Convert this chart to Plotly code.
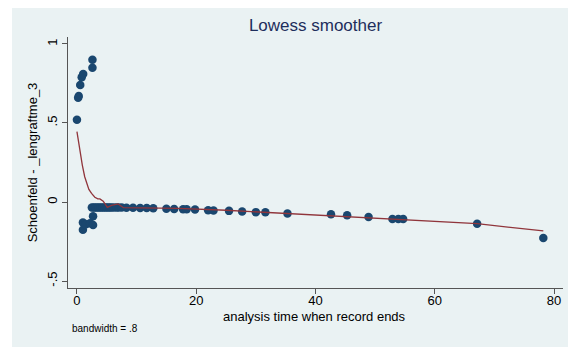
import plotly.graph_objects as go

# Scatter of Schoenfeld residuals (analysis time, residual)
pts_x = [0.0, 0.3, 0.2, 0.55, 0.8, 1.05, 2.6, 2.6,
         1.0, 1.0, 1.5, 2.2, 2.7, 2.7,
         2.5, 2.8, 3.1, 3.4, 3.7, 4.0, 4.3, 4.6, 4.9, 5.2, 5.5, 5.8, 6.2, 6.65, 7.0, 7.5, 8.3,
         9.4, 10.6, 11.7, 12.8, 15.0, 16.3, 17.8, 18.4, 19.8, 22.0, 22.9, 25.5, 27.7, 30.0, 31.6,
         35.3, 42.6, 45.3, 48.9, 52.9, 53.9, 54.7, 67.1, 78.2]
pts_y = [0.52, 0.67, 0.66, 0.74, 0.79, 0.81, 0.85, 0.90,
         -0.175, -0.13, -0.14, -0.135, -0.09, -0.145,
         -0.035, -0.035, -0.035, -0.035, -0.035, -0.035, -0.035, -0.035, -0.035, -0.035, -0.035,
         -0.035, -0.035, -0.035, -0.035, -0.035, -0.036,
         -0.037, -0.038, -0.038, -0.040, -0.042, -0.044, -0.046, -0.046, -0.048, -0.052, -0.053,
         -0.056, -0.060, -0.064, -0.065,
         -0.072, -0.078, -0.084, -0.095, -0.107, -0.108, -0.108, -0.137, -0.228]

# Lowess smooth curve
smooth_x = [0, 0.5, 0.9, 1.3, 1.6, 2.0, 2.45, 3.0, 3.5, 3.85, 4.4, 5.1, 5.8, 6.9, 7.8,
            10, 13, 17, 25, 35.4, 45, 55, 67.1, 78.2]
smooth_y = [0.445, 0.32, 0.234, 0.16, 0.118, 0.08, 0.055, 0.03, 0.02, 0.02, 0.005, -0.034,
            -0.022, -0.012, -0.036, -0.036, -0.038, -0.04, -0.052, -0.072, -0.09, -0.11,
            -0.137, -0.183]

y_tickvals = [-0.5, 0, 0.5, 1]
y_ticktext = ["-.5", "0", ".5", "1"]
x_tickvals = [0, 20, 40, 60, 80]

title_text = "Lowess smoother"
x_title = "analysis time when record ends"
y_title = "Schoenfeld - _lengraftme_3"
note_text = "bandwidth = .8"

FONT = "Liberation Sans, Arial, sans-serif"
BG = "#EAF2F3"
PW, PH = 495, 251

fig = go.Figure()
fig.add_trace(go.Scatter(
    x=pts_x, y=pts_y, mode="markers",
    marker=dict(color="#1A476F", size=8.5, line=dict(width=0)),
    showlegend=False, hoverinfo="skip"))
fig.add_trace(go.Scatter(
    x=smooth_x, y=smooth_y, mode="lines",
    line=dict(color="#90353B", width=1.3),
    showlegend=False, hoverinfo="skip"))

fig.update_layout(
    width=568, height=339,
    margin=dict(l=60, r=13, t=29, b=59, autoexpand=False),
    paper_bgcolor="white", plot_bgcolor="white",
    font=dict(family=FONT, color="#000000", size=13),
    title=dict(text=title_text, xref="paper", x=0.5, xanchor="center",
               yref="container", y=1 - 17 / 339, yanchor="middle", automargin=False,
               font=dict(family=FONT, size=17, color="#1E2E5C")),
    shapes=[dict(type="rect", xref="paper", yref="paper", layer="below",
                 x0=-56 / PW, x1=1 + 13 / PW, y0=-59 / PH, y1=1 + 33 / PH,
                 fillcolor=BG, line=dict(width=0))],
    annotations=[
        dict(text=x_title, xref="paper", yref="paper",
             x=0.497, y=-28 / PH, xanchor="center", yanchor="middle",
             showarrow=False, font=dict(family=FONT, size=13, color="#000000")),
        dict(text=note_text, xref="paper", yref="paper",
             x=2 / PW, y=-40 / PH, xanchor="left", yanchor="middle",
             showarrow=False, font=dict(family=FONT, size=10, color="#000000"))],
)
fig.update_xaxes(
    range=[-1.5, 81.5], tickvals=x_tickvals, showgrid=False, zeroline=False,
    showline=True, linecolor="#555555", linewidth=1, automargin=False,
    ticks="outside", ticklen=5, tickcolor="#555555", ticklabelstandoff=-5,
    tickfont=dict(family=FONT, size=13))
fig.update_yaxes(
    range=[-0.544, 1.044], tickvals=y_tickvals, ticktext=y_ticktext, tickangle=-90,
    showgrid=True, gridcolor=BG, gridwidth=1, zeroline=False,
    showline=True, linecolor="#555555", linewidth=1, automargin=False,
    ticks="outside", ticklen=5, tickcolor="#555555",
    tickfont=dict(family=FONT, size=13),
    title=dict(text=y_title, font=dict(family=FONT, size=13), standoff=4))

fig.write_html("out.html")
